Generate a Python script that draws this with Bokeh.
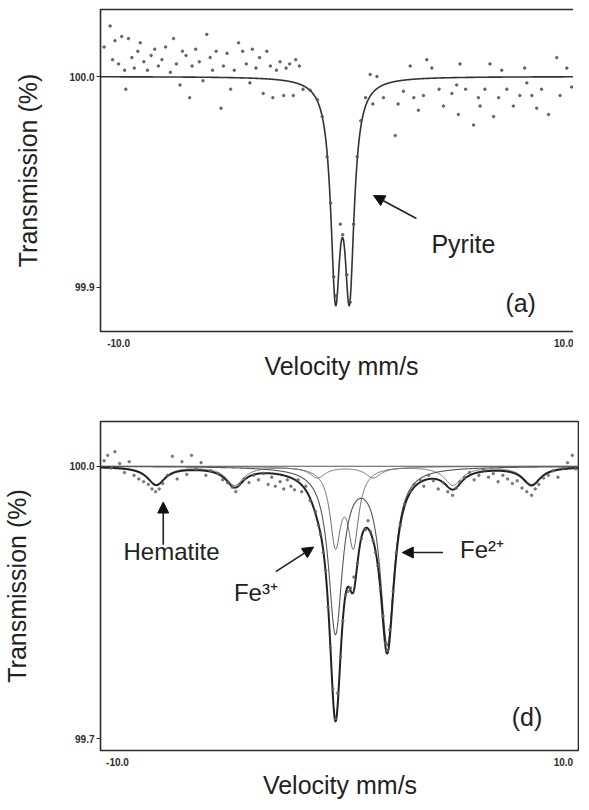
import numpy as np
from bokeh.plotting import figure
from bokeh.layouts import column
from bokeh.models import (Range1d, FixedTicker, Arrow, NormalHead)
from bokeh.core.properties import value
from bokeh.embed import file_html
from bokeh.resources import INLINE

# ---------------- Panel (a): pyrite ----------------
A_VEL = [-9.85, -9.6, -9.5, -9.4, -9.25, -9.12, -9.0, -8.95, -8.84, -8.7, -8.6, -8.45, -8.35, -8.2,
         -8.05, -7.9, -7.75, -7.6, -7.45, -7.3, -7.1, -6.97, -6.85, -6.7, -6.6, -6.45, -6.3, -6.2,
         -6.05, -5.9, -5.75, -5.59, -5.45, -5.35, -5.2, -5.0, -4.9, -4.75, -4.6, -4.45, -4.27, -4.1,
         -3.95, -3.8, -3.7, -3.55, -3.4, -3.25, -3.1, -2.95, -2.85, -2.7, -2.55, -2.4, -2.3, -2.15,
         -2.0, -1.9, -1.75, -1.6,
         -1.3, -1.0, -0.8, -0.6, -0.45, -0.32, -0.22, -0.05, 0.05, 0.22, 0.36, 0.5, 0.65, 0.8, 1.0,
         1.19, 1.3,
         1.47, 1.74, 2.23, 2.35, 2.57, 2.85, 3.0, 3.19, 3.4, 3.54, 3.75, 4.05, 4.23, 4.58, 4.78,
         4.85, 4.92, 5.15, 5.48, 5.68, 5.75, 5.95, 6.16, 6.31, 6.52, 6.65, 6.86, 7.13, 7.4, 7.6,
         7.69, 7.9, 8.1, 8.3, 8.59, 8.93, 9.07, 9.35, 9.55, 9.76, 9.83]
A_TRANS = [100.014, 100.024, 100.008, 100.017, 100.006, 100.019, 100.003, 99.994, 100.018, 100.009,
           100.004, 100.012, 100.016, 100.007, 100.003, 100.010, 100.013, 100.005, 100.008, 100.014,
           100.002, 100.018, 100.006, 99.996, 100.012, 100.010, 99.990, 100.005, 100.013, 100.007,
           99.998, 100.020, 100.009, 100.003, 100.012, 99.985, 100.005, 100.011, 99.994, 100.003,
           100.016, 100.012, 100.006, 99.997, 100.013, 100.004, 100.009, 99.992, 100.012, 100.005,
           99.990, 100.003, 100.007, 99.991, 100.004, 100.006, 99.991, 100.008, 100.005, 99.994,
           99.9935, 99.989, 99.981, 99.962, 99.940, 99.905, 99.896, 99.930, 99.925, 99.906, 99.893,
           99.930, 99.962, 99.979, 99.990, 100.001, 99.987,
           100.000, 99.990, 99.972, 99.987, 99.993, 100.005, 99.990, 99.984, 99.991, 100.008,
           100.004, 99.994, 99.986, 99.992, 99.996, 99.982, 100.006, 99.994, 99.977, 99.990,
           99.986, 99.994, 100.006, 99.981, 99.990, 100.003, 99.994, 99.986, 99.991, 100.004,
           99.997, 99.991, 99.985, 99.994, 99.982, 100.009, 99.991, 100.004, 99.995, 99.990, 99.998]

PYR_POS = [-0.25, 0.33]
PYR_DEPTH = [0.0948, 0.0948]
PYR_HWHM = [0.238, 0.238]
A_YTICKS = [99.9, 100.0]

# ---------------- Panel (d): hematite / Fe3+ / Fe2+ ----------------
D_VEL = [-9.85, -9.7, -9.55, -9.4, -9.2, -9.0, -8.8, -8.6, -8.4, -8.2, -8.0, -7.85, -7.7, -7.55,
         -7.4, -7.2, -7.0, -6.8, -6.6, -6.4, -6.2, -6.0, -5.8, -5.6, -5.4, -5.1, -4.9, -4.7, -4.5,
         -4.35, -4.2, -4.0, -3.8, -3.6, -3.4, -3.2, -3.0, -2.85, -2.7, -2.5, -2.35, -2.2, -2.05,
         -1.9,
         -1.75, -1.6, -1.43, -1.25, -1.02, -0.9, -0.81, -0.7, -0.6, -0.5, -0.4, -0.3, -0.19, -0.1,
         0.02, 0.12, 0.23, 0.33, 0.44, 0.58, 0.73, 0.89, 1.06, 1.17, 1.27, 1.38, 1.48, 1.58, 1.68,
         1.8, 1.9, 1.975, 2.08, 2.22, 2.35, 2.52, 2.7, 2.93, 3.1, 3.35,
         3.5, 3.7, 3.9, 4.1, 4.3, 4.5, 4.7, 4.85, 5.0, 5.2, 5.4, 5.6, 5.8, 6.0, 6.2, 6.4, 6.6, 6.8,
         7.0, 7.2, 7.4, 7.6, 7.8, 8.0, 8.15, 8.3, 8.5, 8.7, 8.9, 9.1, 9.3, 9.5, 9.7, 9.85]
D_TRANS = [100.006, 100.012, 99.998, 100.016, 100.003, 99.993, 100.005, 99.990, 99.986, 99.983,
           99.980, 99.975, 99.972, 99.975, 99.981, 99.990, 100.011, 99.986, 100.005, 99.991,
           100.012, 99.997, 100.004, 99.990, 99.995, 99.992, 99.985, 99.982, 99.977, 99.972,
           99.980, 99.986, 99.982, 99.990, 99.985, 99.992, 99.980, 99.988, 99.978, 99.983, 99.975,
           99.985, 99.978, 99.974,
           99.985, 99.972, 99.978, 99.962, 99.950, 99.935, 99.925, 99.905, 99.885, 99.845, 99.800,
           99.755, 99.722, 99.750, 99.790, 99.830, 99.858, 99.862, 99.866, 99.878, 99.893, 99.920,
           99.930, 99.940, 99.928, 99.918, 99.905, 99.890, 99.866, 99.835, 99.805, 99.797, 99.820,
           99.862, 99.905, 99.935, 99.958, 99.972, 99.980, 99.985,
           99.978, 99.990, 99.984, 99.975, 99.982, 99.972, 99.968, 99.976, 99.983, 99.988, 99.993,
           99.985, 99.990, 99.996, 99.988, 99.992, 99.983, 99.990, 99.986, 99.981, 99.984, 99.976,
           99.972, 99.968, 99.975, 99.980, 99.987, 99.990, 99.995, 99.988, 99.998, 100.004,
           100.012, 99.997]

HEM_POS = [-7.67, -4.39, -0.94, 1.39, 4.72, 8.0]
HEM_DEPTH = [0.0195, 0.0205, 0.012, 0.012, 0.0205, 0.0195]
HEM_HWHM = [0.45, 0.45, 0.4, 0.4, 0.45, 0.45]
FE3_POS = [-0.19, 0.56]
FE3_DEPTH = [0.0821, 0.0821]
FE3_HWHM = [0.27, 0.27]
FE2_POS = [-0.19, 1.975]
FE2_DEPTH = [0.1807, 0.1927]
FE2_HWHM = [0.35, 0.35]
D_YTICKS = [99.7, 100.0]

X_TICK_LABELS = ["-10.0", "10.0"]

FONT = "Liberation Sans"
DARK = "#2b2b2b"


def lorentz_sum(v, pos, depth, hwhm):
    out = np.zeros_like(v)
    for p0, d0, g in zip(pos, depth, hwhm):
        out += d0 * g * g / (g * g + (v - p0) ** 2)
    return out


def make_fig(fw, fh, bl, br, bt, bb, yr, yticks, xtick_pos, ylab_standoff, xlab_standoff):
    p = figure(frame_width=fw, frame_height=fh, min_border_left=bl, min_border_right=br,
               min_border_top=bt, min_border_bottom=bb, x_range=Range1d(-10, 10),
               y_range=Range1d(*yr), output_backend="svg", toolbar_location=None,
               background_fill_color="white", border_fill_color="white")
    p.grid.visible = False
    p.outline_line_color = DARK
    p.outline_line_width = 1.6
    xa = p.xaxis[0]
    xa.ticker = FixedTicker(ticks=xtick_pos)
    xa.major_label_overrides = {xtick_pos[0]: X_TICK_LABELS[0], xtick_pos[1]: X_TICK_LABELS[1]}
    xa.major_tick_line_color = None
    xa.minor_tick_line_color = None
    xa.axis_line_color = None
    xa.major_label_standoff = 1
    xa.major_label_text_font = FONT
    xa.major_label_text_font_style = "bold"
    xa.major_label_text_font_size = "10px"
    xa.major_label_text_color = DARK
    xa.axis_label = "Velocity mm/s"
    xa.axis_label_text_font = FONT
    xa.axis_label_text_font_style = "normal"
    xa.axis_label_text_font_size = "25px"
    xa.axis_label_text_color = "#222222"
    xa.axis_label_standoff = xlab_standoff
    ya = p.yaxis[0]
    ya.ticker = FixedTicker(ticks=yticks)
    ya.major_label_overrides = {t: f"{t:.1f}" for t in yticks}
    ya.major_tick_out = 4
    ya.major_tick_in = 0
    ya.major_tick_line_color = DARK
    ya.minor_tick_line_color = None
    ya.axis_line_color = None
    ya.major_label_standoff = 2
    ya.major_label_text_font = FONT
    ya.major_label_text_font_style = "bold"
    ya.major_label_text_font_size = "10px"
    ya.major_label_text_color = DARK
    ya.axis_label = "Transmission (%)"
    ya.axis_label_text_font = FONT
    ya.axis_label_text_font_style = "normal"
    ya.axis_label_text_font_size = "25px"
    ya.axis_label_text_color = "#222222"
    ya.axis_label_standoff = ylab_standoff
    return p


v = np.linspace(-10, 10, 2001)
head = lambda: NormalHead(size=11, fill_color="#111111", line_color="#111111")

# ---- panel (a)
pa = make_fig(482, 322, 86, 2, 9, 55, (99.8791, 100.0318), A_YTICKS, [-9.25, 9.29], 24, 2)
pa.line(v, 100.0 - lorentz_sum(v, PYR_POS, PYR_DEPTH, PYR_HWHM), line_color="#333333",
        line_width=1.6)
pa.scatter(A_VEL, A_TRANS, size=2.5, color="#555555", alpha=0.85)
pa.add_layout(Arrow(x_start=3.11, y_start=99.9327, x_end=1.33, y_end=99.9436,
                    line_color="#222222", line_width=1.6, end=head()))
pa.text(x=[3.73], y=[99.9204], text=["Pyrite"], text_font=value(FONT), text_font_size="25px",
        text_baseline="middle", text_align="left", text_color="#222222")
pa.text(x=[6.80], y=[99.8924], text=["(a)"], text_font=value(FONT), text_font_size="25px",
        text_baseline="middle", text_align="left", text_color="#222222")

# ---- panel (d)
hem = lorentz_sum(v, HEM_POS, HEM_DEPTH, HEM_HWHM)
fe3 = lorentz_sum(v, FE3_POS, FE3_DEPTH, FE3_HWHM)
fe2 = lorentz_sum(v, FE2_POS, FE2_DEPTH, FE2_HWHM)
pd_ = make_fig(479, 329, 94, 0, 35, 44, (99.6869, 100.0493), D_YTICKS, [-9.29, 9.33], 35, 2)
pd_.line([-10, 10], [100.0, 100.0], line_color="#555555", line_width=1)
pd_.line(v, 100.0 - hem, line_color="#666666", line_width=1)
pd_.line(v, 100.0 - fe3, line_color="#666666", line_width=1)
pd_.line(v, 100.0 - fe2, line_color="#555555", line_width=1.1)
pd_.line(v, 100.0 - (hem + fe3 + fe2), line_color="#222222", line_width=2)
pd_.scatter(D_VEL, D_TRANS, size=2.5, color="#666666", alpha=0.8)
arrow_kw = dict(line_color="#222222", line_width=1.6)
pd_.add_layout(Arrow(x_start=-7.38, y_start=99.9135, x_end=-7.38, y_end=99.9606, end=head(),
                     **arrow_kw))
pd_.add_layout(Arrow(x_start=-2.68, y_start=99.884, x_end=-1.10, y_end=99.911, end=head(),
                     **arrow_kw))
pd_.add_layout(Arrow(x_start=4.30, y_start=99.905, x_end=2.60, y_end=99.905, end=head(),
                     **arrow_kw))
pd_.text(x=[-9.04], y=[99.906], text=["Hematite"], text_font=value(FONT), text_font_size="24px",
         text_baseline="middle", text_align="left", text_color="#222222")
pd_.text(x=[-4.43], y=[99.861], text=["Fe³⁺"], text_font=value(FONT), text_font_size="24px",
         text_baseline="middle", text_align="left", text_color="#222222")
pd_.text(x=[5.01], y=[99.908], text=["Fe²⁺"], text_font=value(FONT), text_font_size="24px",
         text_baseline="middle", text_align="left", text_color="#222222")
pd_.text(x=[7.17], y=[99.724], text=["(d)"], text_font=value(FONT), text_font_size="25px",
         text_baseline="middle", text_align="left", text_color="#222222")

layout = column(pa, pd_, spacing=0)
open("out.html", "w").write(file_html(layout, INLINE))
